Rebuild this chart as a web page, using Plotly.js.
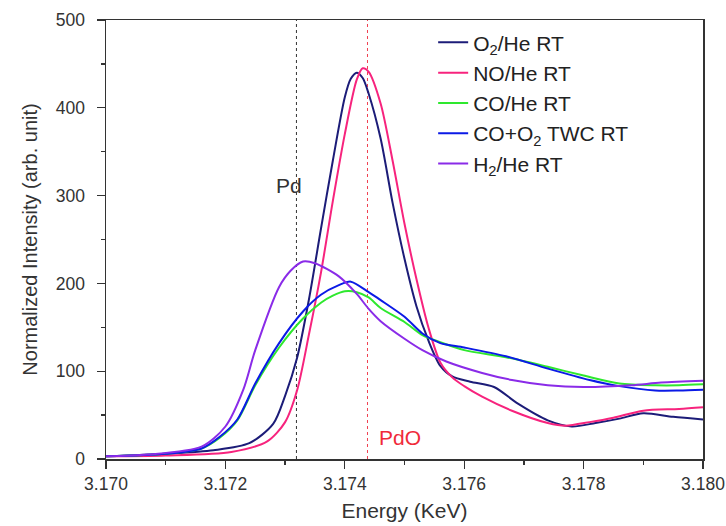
<!DOCTYPE html>
<html>
<head>
<meta charset="utf-8">
<script src="https://cdn.plot.ly/plotly-3.0.1.min.js"></script>
<style>html,body{margin:0;padding:0;background:#fff}#chart{width:726px;height:526px}</style>
</head>
<body>
<div id="chart"></div>
<script>
// O2/He RT
const xO2 = [3.1700, 3.1710, 3.1718, 3.1724, 3.1728, 3.1730, 3.1732, 3.1734, 3.1736, 3.1738, 3.1740, 3.1741, 3.1742, 3.1743, 3.1744, 3.1746, 3.1748, 3.1750, 3.1752, 3.1754, 3.1756, 3.1758, 3.1761, 3.1765, 3.1769, 3.1774, 3.1778, 3.1782, 3.1786, 3.1790, 3.1795, 3.1800];
const yO2 = [3, 6, 10, 18, 40, 72, 115, 182, 262, 340, 412, 433, 440, 434, 416, 365, 292, 228, 174, 135, 106, 94, 88, 82, 63, 44, 37, 41, 46, 52, 48, 45];
// NO/He RT
const xNO = [3.1700, 3.1710, 3.1721, 3.1727, 3.1730, 3.1732, 3.1734, 3.1736, 3.1738, 3.1740, 3.1742, 3.1743, 3.1744, 3.1746, 3.1748, 3.1750, 3.1752, 3.1754, 3.1756, 3.1758, 3.1760, 3.1763, 3.1768, 3.1774, 3.1777, 3.1781, 3.1785, 3.1790, 3.1796, 3.1800];
const yNO = [3, 4, 8, 20, 42, 78, 142, 212, 294, 370, 432, 445, 441, 405, 340, 268, 205, 150, 110, 93, 83, 71, 55, 41, 38, 42, 47, 55, 57, 59];
// CO/He RT
const xCO = [3.1700, 3.1710, 3.1716, 3.1719, 3.1722, 3.1725, 3.1729, 3.1733, 3.1736, 3.1738, 3.1740, 3.1742, 3.1744, 3.1746, 3.1750, 3.1753, 3.1756, 3.1760, 3.1767, 3.1774, 3.1780, 3.1786, 3.1792, 3.1796, 3.1800];
const yCO = [3, 6, 12, 24, 44, 84, 127, 160, 178, 186, 191, 190, 184, 172, 156, 141, 133, 124, 116, 105, 95, 86, 84, 84, 85];
// CO+O2 TWC RT
const xTWC = [3.1700, 3.1710, 3.1716, 3.1719, 3.1722, 3.1725, 3.1729, 3.1733, 3.1736, 3.1739, 3.1741, 3.1744, 3.1746, 3.1750, 3.1753, 3.1756, 3.1760, 3.1767, 3.1774, 3.1781, 3.1786, 3.1792, 3.1796, 3.1800];
const yTWC = [3, 6, 12, 25, 45, 86, 132, 168, 187, 198, 202, 190, 181, 162, 143, 132, 127, 117, 103, 90, 83, 78, 78, 79];
// H2/He RT
const xH2 = [3.1700, 3.1707, 3.1716, 3.1720, 3.1723, 3.1725, 3.1729, 3.1731, 3.1733, 3.1735, 3.1739, 3.1742, 3.1744, 3.1746, 3.1750, 3.1753, 3.1757, 3.1763, 3.1768, 3.1774, 3.1780, 3.1788, 3.1793, 3.1800];
const yH2 = [3, 5, 14, 37, 79, 124, 196, 215, 225, 223, 208, 188, 171, 157, 137, 124, 111, 98, 90, 84, 82, 84, 87, 89];

const seriesNames = ["O<sub>2</sub>/He RT", "NO/He RT", "CO/He RT", "CO+O<sub>2</sub> TWC RT", "H<sub>2</sub>/He RT"];
const seriesColors = ["#1c1c78", "#f7237d", "#2ee82e", "#0b1ae6", "#8a2be8"];

// reference energies (Pd, PdO)
const refLabels = ["Pd", "PdO"];
const refEnergies = [3.17319, 3.17438];
const refColors = ["#333333", "#f04050"];
const refTextColors = ["#333333", "#f02a3a"];
const refTextX = [3.17306, 3.17492];
const refTextY = [312, 25];

const xs = [xO2, xNO, xCO, xTWC, xH2];
const ys = [yO2, yNO, yCO, yTWC, yH2];

const traces = xs.map((x, i) => ({
  x: x, y: ys[i], name: seriesNames[i], type: "scatter", mode: "lines",
  line: {color: seriesColors[i], width: 2, shape: "spline", smoothing: 0.8},
  hoverinfo: "skip"
}));

const font = "Liberation Sans, Arial, sans-serif";

const shapes = refEnergies.map((e, i) => ({
  type: "line", xref: "x", yref: "y", x0: e, x1: e, y0: 0, y1: 500,
  line: {color: refColors[i], width: 1, dash: "dot"}, layer: "below"
}));

const annotations = refLabels.map((t, i) => ({
  text: t, x: refTextX[i], y: refTextY[i], xref: "x", yref: "y",
  showarrow: false, font: {family: font, size: 21, color: refTextColors[i]}
}));

const layout = {
  width: 726, height: 526,
  margin: {l: 106, r: 23, t: 20, b: 67},
  paper_bgcolor: "#ffffff", plot_bgcolor: "#ffffff",
  font: {family: font, color: "#333333"},
  showlegend: true,
  legend: {x: 0.548, y: 0.995, xanchor: "left", yanchor: "top",
           font: {family: font, size: 21, color: "#222222"},
           bgcolor: "rgba(0,0,0,0)", tracegroupgap: 0},
  xaxis: {
    range: [3.170, 3.180], tick0: 3.170, dtick: 0.002, tickformat: ".3f",
    ticks: "outside", ticklen: 8, tickwidth: 1.3, tickcolor: "#333",
    minor: {dtick: 0.001, ticks: "outside", ticklen: 4, tickcolor: "#333", tickwidth: 1.3},
    showline: true, linecolor: "#333", linewidth: 1.5, mirror: true,
    showgrid: false, zeroline: false,
    tickfont: {family: font, size: 17.5, color: "#333"},
    title: {text: "Energy (KeV)", font: {family: font, size: 21, color: "#333"}, standoff: 11}
  },
  yaxis: {
    range: [0, 500], dtick: 100,
    ticks: "outside", ticklen: 8, tickwidth: 1.3, tickcolor: "#333",
    minor: {dtick: 50, ticks: "outside", ticklen: 4, tickcolor: "#333", tickwidth: 1.3},
    showline: true, linecolor: "#333", linewidth: 1.5, mirror: true,
    showgrid: false, zeroline: false, ticklabelstandoff: 8,
    tickfont: {family: font, size: 17.5, color: "#333"},
    title: {text: "Normalized Intensity (arb. unit)", font: {family: font, size: 20, color: "#333"}, standoff: 13}
  },
  shapes: shapes,
  annotations: annotations
};

Plotly.newPlot("chart", traces, layout, {staticPlot: true, displayModeBar: false});
</script>
</body>
</html>
